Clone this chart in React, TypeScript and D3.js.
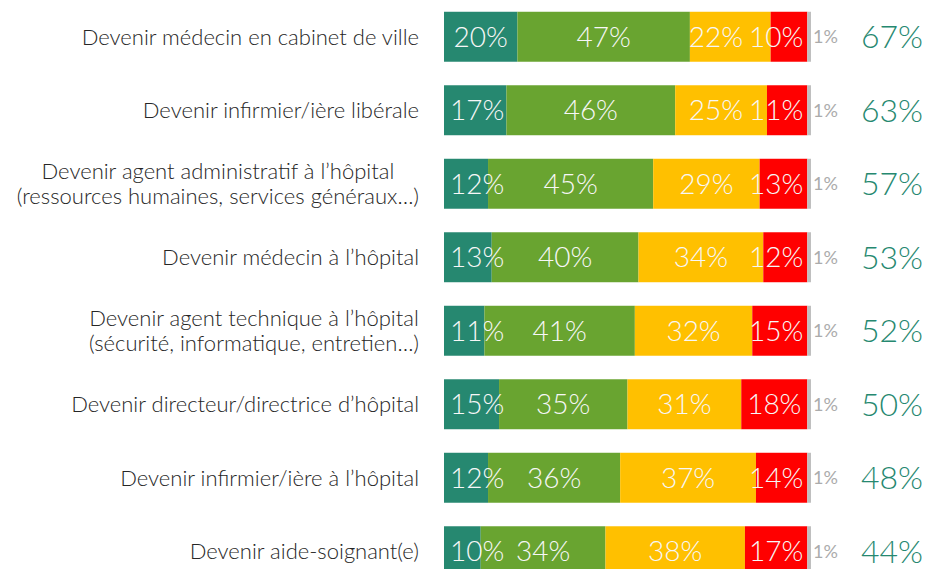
import React, { useEffect, useRef } from "react";
import * as d3 from "d3";

const categories: string[] = [
  "Devenir médecin en cabinet de ville",
  "Devenir infirmier/ière libérale",
  "Devenir agent administratif à l’hôpital\n(ressources humaines, services généraux…)",
  "Devenir médecin à l’hôpital",
  "Devenir agent technique à l’hôpital\n(sécurité, informatique, entretien…)",
  "Devenir directeur/directrice d’hôpital",
  "Devenir infirmier/ière à l’hôpital",
  "Devenir aide-soignant(e)",
];

const seriesKeys = ["tout", "plutot", "plutotPas", "pasDuTout", "nsp"];
const tout: number[] = [20, 17, 12, 13, 11, 15, 12, 10];
const plutot: number[] = [47, 46, 45, 40, 41, 35, 36, 34];
const plutotPas: number[] = [22, 25, 29, 34, 32, 31, 37, 38];
const pasDuTout: number[] = [10, 11, 13, 12, 15, 18, 14, 17];
const nsp: number[] = [1, 1, 1, 1, 1, 1, 1, 1];
const totals: number[] = [67, 63, 57, 53, 52, 50, 48, 44];

const colors = ["#268870", "#69A430", "#FFC000", "#FF0000", "#BFBFBF"];

const W = 931;
const H = 569;

export default function App() {
  const ref = useRef<SVGSVGElement>(null);

  useEffect(() => {
    const svg = d3.select(ref.current);
    svg.selectAll("*").remove();

    const data = categories.map((c, i) => ({
      cat: c,
      tout: tout[i],
      plutot: plutot[i],
      plutotPas: plutotPas[i],
      pasDuTout: pasDuTout[i],
      nsp: nsp[i],
      total: totals[i],
    }));

    const x = d3.scaleLinear().domain([0, 100]).range([444, 811]);
    const y = d3
      .scaleBand<string>()
      .domain(categories)
      .range([0, 588])
      .paddingInner(0.32)
      .paddingOuter(0.16);

    const stack = d3.stack<any>().keys(seriesKeys);
    const stacked = stack(data as any);

    const g = svg.append("g");

    stacked.forEach((layer, li) => {
      g.append("g")
        .selectAll("rect")
        .data(layer)
        .join("rect")
        .attr("x", (d) => x(d[0]))
        .attr("y", (d: any) => y(d.data.cat)!)
        .attr("width", (d) => x(d[1]) - x(d[0]))
        .attr("height", y.bandwidth())
        .attr("fill", colors[li]);
    });

    const font = "Lato, 'Open Sans', sans-serif";

    data.forEach((row, ri) => {
      const cy = y(row.cat)! + y.bandwidth() / 2;
      const labels: { cx: number; w: number; el: any }[] = [];
      for (let li = 0; li < 4; li++) {
        const seg = stacked[li][ri];
        const cx = (x(seg[0]) + x(seg[1])) / 2;
        const t = g
          .append("text")
          .attr("x", cx)
          .attr("y", cy)
          .attr("dy", "0.36em")
          .attr("text-anchor", "middle")
          .attr("font-family", font)
          .attr("font-weight", 300)
          .attr("font-size", 28)
          .attr("fill", "#F7F7F7")
          .text(`${row[seriesKeys[li] as keyof typeof row]}%`);
        const w = (t.node() as SVGTextElement).getComputedTextLength();
        labels.push({ cx, w, el: t });
      }
      const leftLimit = x(0) + 6;
      const rightLimit = x(stacked[3][ri][1]) - 4;
      const gap = 6;
      if (labels[0].cx - labels[0].w / 2 < leftLimit) labels[0].cx = leftLimit + labels[0].w / 2;
      const last = labels[3];
      if (last.cx + last.w / 2 > rightLimit) last.cx = rightLimit - last.w / 2;
      for (let k = 2; k >= 1; k--) {
        const a = labels[k];
        const b = labels[k + 1];
        const maxRight = b.cx - b.w / 2 - gap;
        if (a.cx + a.w / 2 > maxRight) a.cx = maxRight - a.w / 2;
      }
      for (let k = 1; k < 3; k++) {
        const a = labels[k - 1];
        const b = labels[k];
        const minLeft = a.cx + a.w / 2 + gap;
        if (b.cx - b.w / 2 < minLeft) b.cx = minLeft + b.w / 2;
      }
      labels.forEach((l) => l.el.attr("x", l.cx));

      g.append("text")
        .attr("x", x(100) + 2)
        .attr("y", cy)
        .attr("dy", "0.36em")
        .attr("text-anchor", "start")
        .attr("font-family", font)
        .attr("font-weight", 400)
        .attr("font-size", 18)
        .attr("fill", "#ABABAB")
        .text(`${row.nsp}%`);

      g.append("text")
        .attr("x", 923)
        .attr("y", cy)
        .attr("dy", "0.36em")
        .attr("text-anchor", "end")
        .attr("font-family", font)
        .attr("font-weight", 300)
        .attr("font-size", 32)
        .attr("fill", "#268870")
        .text(`${row.total}%`);

      const lines = row.cat.split("\n");
      const lineH = 25;
      const lg = g.append("g");
      const texts = lines.map((ln, k) =>
        lg
          .append("text")
          .attr("y", cy + (k - (lines.length - 1) / 2) * lineH)
          .attr("dy", "0.36em")
          .attr("font-family", font)
          .attr("font-weight", 300)
          .attr("font-size", 22)
          .attr("fill", "#262626")
          .text(ln)
      );
      const widths = texts.map((t) => (t.node() as SVGTextElement).getComputedTextLength());
      const maxW = Math.max(...widths);
      const right = 419;
      texts.forEach((t) => t.attr("text-anchor", "middle").attr("x", right - maxW / 2));
    });
  }, []);

  return (
    <svg
      ref={ref}
      width={W}
      height={H}
      style={{ position: "absolute", left: 0, top: 0, background: "#fff" }}
    />
  );
}
